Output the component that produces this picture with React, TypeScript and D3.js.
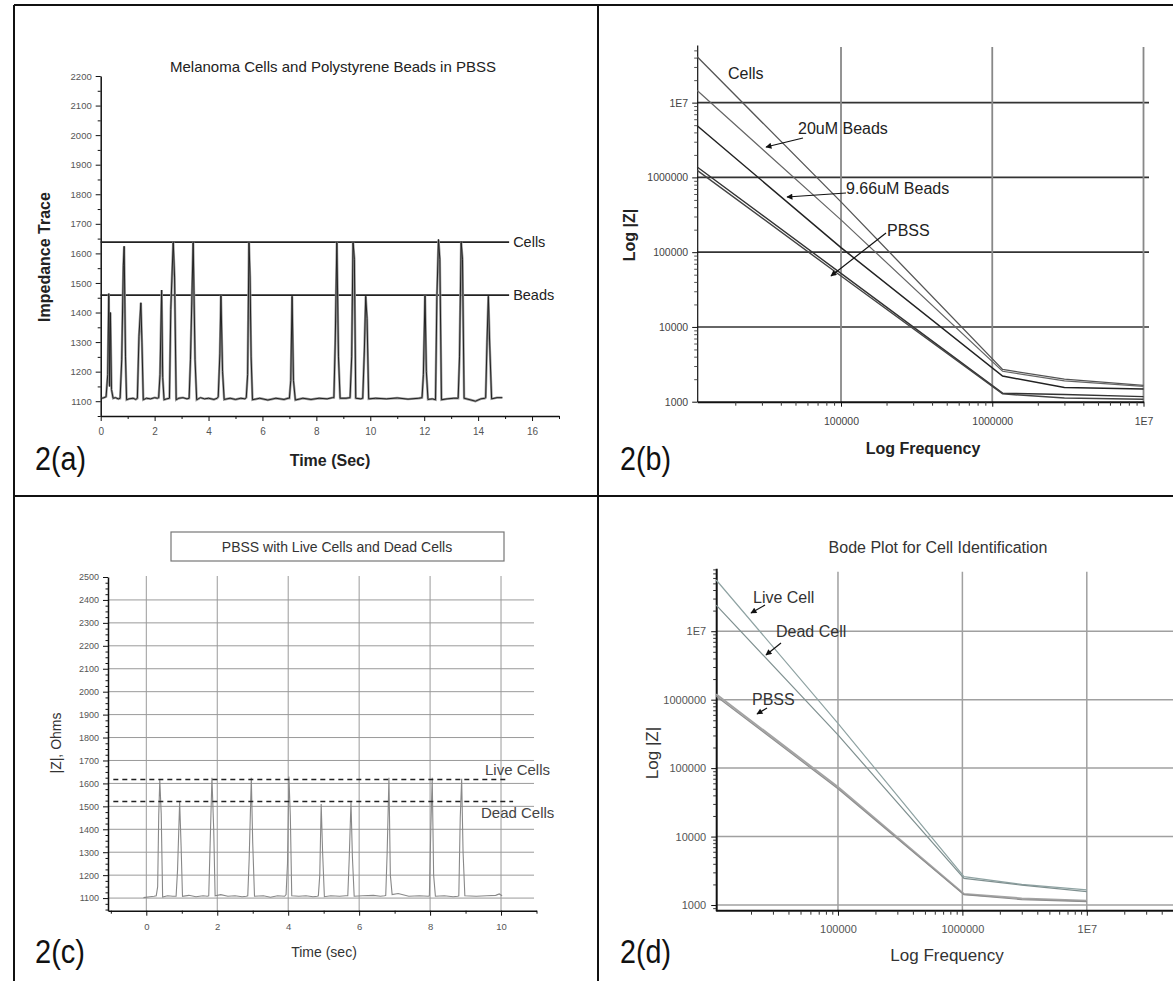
import React, { useEffect, useRef } from 'react';
import * as d3 from 'd3';

const W = 1173;
const H = 981;
const font = 'Arial, "Liberation Sans", sans-serif';

// ---- 2(a) impedance trace, cells and beads ----
const traceA: [number, number][] = [
  [0.05, 1110], [0.12, 1112], [0.2, 1115], [0.26, 1190], [0.3, 1464], [0.33, 1150], [0.36, 1400], [0.4, 1140], [0.46, 1110],
  [0.55, 1112], [0.65, 1108],
  [0.72, 1110], [0.78, 1240], [0.84, 1560], [0.87, 1624], [0.92, 1250], [0.96, 1105],
  [1.05, 1108], [1.2, 1110], [1.3, 1106],
  [1.36, 1110], [1.42, 1320], [1.49, 1433], [1.53, 1300], [1.58, 1105],
  [1.7, 1110], [1.85, 1108], [2.0, 1112], [2.1, 1110],
  [2.15, 1112], [2.2, 1190], [2.26, 1476], [2.3, 1180], [2.35, 1105],
  [2.45, 1108],
  [2.55, 1110], [2.6, 1410], [2.69, 1639], [2.74, 1520], [2.8, 1105],
  [2.9, 1110], [3.05, 1112], [3.2, 1108],
  [3.28, 1110], [3.33, 1240], [3.43, 1639], [3.5, 1240], [3.56, 1105],
  [3.7, 1112], [3.85, 1108], [4.0, 1110], [4.2, 1106], [4.32, 1110],
  [4.36, 1115], [4.42, 1260], [4.46, 1459], [4.52, 1200], [4.58, 1106],
  [4.8, 1110], [5.0, 1106], [5.2, 1110], [5.35, 1108],
  [5.4, 1112], [5.45, 1190], [5.5, 1639], [5.54, 1520], [5.58, 1250], [5.63, 1105],
  [5.9, 1110], [6.2, 1104], [6.5, 1110], [6.8, 1106], [6.95, 1110],
  [7.0, 1110], [7.05, 1170], [7.1, 1455], [7.15, 1170], [7.22, 1104],
  [7.5, 1110], [7.8, 1106], [8.1, 1110], [8.4, 1108], [8.6, 1112],
  [8.65, 1112], [8.7, 1300], [8.76, 1639], [8.82, 1250], [8.88, 1110],
  [9.1, 1110],
  [9.25, 1112], [9.31, 1250], [9.36, 1639], [9.41, 1580], [9.46, 1110],
  [9.65, 1108],
  [9.72, 1110], [9.78, 1270], [9.83, 1455], [9.88, 1380], [9.94, 1108],
  [10.2, 1110], [10.6, 1108], [11.0, 1111], [11.4, 1107], [11.8, 1110],
  [11.92, 1112], [11.97, 1190], [12.03, 1459], [12.08, 1200], [12.14, 1106],
  [12.3, 1108],
  [12.42, 1105], [12.47, 1450], [12.53, 1647], [12.58, 1580], [12.64, 1105],
  [12.85, 1108], [13.1, 1110],
  [13.26, 1110], [13.31, 1250], [13.37, 1640], [13.42, 1580], [13.48, 1110],
  [13.7, 1105], [13.9, 1100], [14.1, 1108], [14.25, 1110],
  [14.28, 1112], [14.33, 1300], [14.38, 1455], [14.43, 1290], [14.5, 1108],
  [14.7, 1112], [14.9, 1112],
];
const levelsA = [
  { label: 'Cells', value: 1638 },
  { label: 'Beads', value: 1459 },
];
const levelSpanA = [0, 15.15];
const yTicksA = [1100, 1200, 1300, 1400, 1500, 1600, 1700, 1800, 1900, 2000, 2100, 2200];
const xTicksA = [0, 2, 4, 6, 8, 10, 12, 14, 16];

// ---- 2(b) bode plot, cells / beads / PBSS ----
const cellsB: [number, number][] = [[1.12e4, 4.1e7], [1e5, 4.7e5], [1.17e6, 2700], [3e6, 2000], [1e7, 1650]];
const beads20B: [number, number][] = [[1.12e4, 1.45e7], [1e5, 2.7e5], [1.17e6, 2550], [3e6, 1900], [1e7, 1600]];
const beads966B: [number, number][] = [[1.12e4, 4.9e6], [1e5, 1.15e5], [1.17e6, 2200], [3e6, 1550], [1e7, 1480]];
const pbssB1: [number, number][] = [[1.12e4, 1.38e6], [1e5, 5.2e4], [1.17e6, 1300], [3e6, 1250], [1e7, 1170]];
const pbssB2: [number, number][] = [[1.12e4, 1.24e6], [1e5, 4.8e4], [1.17e6, 1270], [3e6, 1120], [1e7, 1080]];

// ---- 2(c) live vs dead cells ----
const traceC: [number, number][] = [
  [-0.08, 1102], [0.1, 1106], [0.22, 1108],
  [0.28, 1110], [0.32, 1150], [0.35, 1460], [0.38, 1615], [0.42, 1470], [0.46, 1105],
  [0.6, 1110], [0.75, 1108],
  [0.84, 1108], [0.88, 1220], [0.94, 1520], [0.98, 1330], [1.02, 1108],
  [1.2, 1112], [1.4, 1106], [1.6, 1110], [1.72, 1108],
  [1.76, 1110], [1.8, 1340], [1.85, 1625], [1.9, 1400], [1.94, 1110],
  [2.1, 1115], [2.3, 1108], [2.5, 1110], [2.7, 1106], [2.82, 1108],
  [2.86, 1110], [2.9, 1270], [2.96, 1625], [3.0, 1340], [3.05, 1108],
  [3.3, 1110], [3.5, 1104], [3.7, 1110], [3.9, 1108],
  [3.94, 1115], [3.98, 1250], [4.02, 1630], [4.06, 1460], [4.1, 1110],
  [4.3, 1108], [4.5, 1110], [4.7, 1106], [4.82, 1108],
  [4.85, 1110], [4.89, 1200], [4.93, 1510], [4.97, 1300], [5.02, 1106],
  [5.2, 1110], [5.45, 1108], [5.62, 1110],
  [5.68, 1110], [5.72, 1270], [5.77, 1520], [5.81, 1280], [5.86, 1108],
  [6.1, 1110], [6.4, 1112], [6.6, 1108], [6.72, 1110],
  [6.75, 1112], [6.79, 1300], [6.84, 1625], [6.88, 1200], [6.93, 1115],
  [7.1, 1120], [7.4, 1108], [7.7, 1110], [7.95, 1108],
  [7.98, 1110], [8.02, 1400], [8.06, 1625], [8.1, 1200], [8.15, 1108],
  [8.4, 1110], [8.65, 1106], [8.78, 1108],
  [8.81, 1110], [8.85, 1450], [8.89, 1620], [8.93, 1300], [8.98, 1110],
  [9.3, 1108], [9.6, 1110], [9.85, 1112], [9.95, 1118], [10.03, 1110],
];
const levelsC = [
  { label: 'Live Cells', value: 1617, end: 10.17 },
  { label: 'Dead Cells', value: 1521, end: 10.34 },
];
const yTicksC = [1100, 1200, 1300, 1400, 1500, 1600, 1700, 1800, 1900, 2000, 2100, 2200, 2300, 2400, 2500];
const yGridC = [1100, 1200, 1300, 1400, 1500, 1600, 1700, 1800, 1900, 2000, 2100, 2200, 2300, 2400];
const xTicksC = [0, 2, 4, 6, 8, 10];

// ---- 2(d) bode plot for cell identification ----
const liveD: [number, number][] = [[1.05e4, 5.6e7], [1e5, 4.5e5], [1.03e6, 2600], [3e6, 2000], [1e7, 1660]];
const deadD: [number, number][] = [[1.05e4, 2.4e7], [1e5, 3.05e5], [1.03e6, 2450], [3e6, 1950], [1e7, 1570]];
const pbssD1: [number, number][] = [[1.05e4, 1.2e6], [1e5, 5.3e4], [1.03e6, 1450], [3e6, 1250], [1e7, 1150]];
const pbssD2: [number, number][] = [[1.05e4, 1.12e6], [1e5, 5.0e4], [1.03e6, 1420], [3e6, 1200], [1e7, 1120]];

const decades = [1e3, 1e4, 1e5, 1e6, 1e7];
const decadeLabels = ['1000', '10000', '100000', '1000000', '1E7'];
const freqDecades = [1e5, 1e6, 1e7];
const freqLabels = ['100000', '1000000', '1E7'];

const logMinor = (lo: number, hi: number) => {
  const out: number[] = [];
  for (let e = lo; e < hi; e++) for (let m = 2; m <= 9; m++) out.push(m * Math.pow(10, e));
  return out;
};

function styleAxis(g: any, size: number, color: string, domainWidth = 1.5) {
  g.selectAll('text').attr('font-size', size).attr('font-family', font).attr('fill', color);
  g.selectAll('line').attr('stroke', '#111');
  g.select('.domain').attr('stroke', '#111').attr('stroke-width', domainWidth);
}

function label(g: any, x: number, y: number, str: string, size: number, opts: any = {}) {
  const t = g.append('text')
    .attr('x', x).attr('y', y)
    .attr('font-family', font)
    .attr('font-size', size)
    .attr('fill', opts.fill || '#111')
    .attr('font-weight', opts.weight || 'normal')
    .attr('text-anchor', opts.anchor || 'start')
    .text(str);
  if (opts.rotate) {
    t.attr('x', 0).attr('y', 0).attr('transform', `translate(${x},${y}) rotate(-90)`);
  }
  if (opts.length) {
    t.attr('textLength', opts.length).attr('lengthAdjust', 'spacingAndGlyphs');
  }
  return t;
}

function arrow(g: any, x1: number, y1: number, x2: number, y2: number) {
  g.append('line')
    .attr('x1', x1).attr('y1', y1).attr('x2', x2).attr('y2', y2)
    .attr('stroke', '#111').attr('stroke-width', 1.2)
    .attr('marker-end', 'url(#arrowhead)');
}

export default function App() {
  const ref = useRef<SVGSVGElement>(null);

  useEffect(() => {
    const svg = d3.select(ref.current);
    svg.selectAll('*').remove();

    svg.append('rect').attr('width', W).attr('height', H).attr('fill', '#fff');
    svg.append('defs').append('marker')
      .attr('id', 'arrowhead')
      .attr('viewBox', '0 0 10 10')
      .attr('refX', 9).attr('refY', 5)
      .attr('markerWidth', 6).attr('markerHeight', 5)
      .attr('orient', 'auto')
      .append('path').attr('d', 'M0,0L10,5L0,10z').attr('fill', '#111');

    // frame
    const frame = svg.append('g').attr('stroke', '#111').attr('stroke-width', 2);
    frame.append('line').attr('x1', 14).attr('x2', W).attr('y1', 5).attr('y2', 5);
    frame.append('line').attr('x1', 14).attr('x2', 14).attr('y1', 5).attr('y2', H);
    frame.append('line').attr('x1', 598).attr('x2', 598).attr('y1', 5).attr('y2', H);
    frame.append('line').attr('x1', 14).attr('x2', W).attr('y1', 496).attr('y2', 496);

    // ================= 2(a) =================
    const a = svg.append('g');
    const xA = d3.scaleLinear().domain([0, 17]).range([100.7, 559]);
    const yA = d3.scaleLinear().domain([1050, 2200]).range([416, 76]);

    const axA = a.append('g').attr('transform', 'translate(0,416)')
      .call(d3.axisBottom(xA).tickValues(xTicksA).tickSize(5).tickSizeOuter(0).tickPadding(7).tickFormat(d3.format('d')));
    styleAxis(axA, 10, '#555');
    const axAm = a.append('g').attr('transform', 'translate(0,416)')
      .call(d3.axisBottom(xA).tickValues(d3.range(1, 18, 2)).tickSize(3).tickFormat(() => ''));
    axAm.select('.domain').remove();
    axAm.selectAll('line').attr('stroke', '#111');

    const ayA = a.append('g').attr('transform', 'translate(100.7,0)')
      .call(d3.axisLeft(yA).tickValues(yTicksA).tickSize(5).tickSizeOuter(0).tickPadding(4).tickFormat(d3.format('d')));
    styleAxis(ayA, 9.5, '#555');
    const ayAm = a.append('g').attr('transform', 'translate(100.7,0)')
      .call(d3.axisLeft(yA).tickValues(d3.range(1050, 2200, 100)).tickSize(3).tickFormat(() => ''));
    ayAm.select('.domain').remove();
    ayAm.selectAll('line').attr('stroke', '#111');

    levelsA.forEach((l) => {
      a.append('line')
        .attr('x1', xA(levelSpanA[0])).attr('x2', xA(levelSpanA[1]))
        .attr('y1', yA(l.value)).attr('y2', yA(l.value))
        .attr('stroke', '#222').attr('stroke-width', 1.6);
      label(a, xA(levelSpanA[1]) + 4, yA(l.value) + 5, l.label, 14.5, { fill: '#222' });
    });

    const lineA = d3.line<[number, number]>().x((d) => xA(d[0])).y((d) => yA(d[1]));
    a.append('path').attr('d', lineA(traceA)).attr('fill', 'none').attr('stroke', '#999').attr('stroke-width', 2.4);
    a.append('path').attr('d', lineA(traceA)).attr('fill', 'none').attr('stroke', '#222').attr('stroke-width', 1);

    label(a, 333, 72, 'Melanoma Cells and Polystyrene Beads in PBSS', 15, { anchor: 'middle', fill: '#222' });
    label(a, 50, 257, 'Impedance Trace', 16, { anchor: 'middle', weight: 'bold', rotate: true, fill: '#222' });
    label(a, 330, 466, 'Time (Sec)', 16, { anchor: 'middle', weight: 'bold', fill: '#222' });
    label(a, 35, 470, '2(a)', 33, { fill: '#111', length: 51 });

    // ================= 2(b) =================
    const b = svg.append('g');
    const xB = d3.scaleLog().domain([1.12e4, 1e7]).range([697.2, 1143.5]);
    const yB = d3.scaleLog().domain([1000, 5.9e7]).range([401.7, 45]);

    decades.slice(1).forEach((v) => {
      b.append('line').attr('x1', 697.2).attr('x2', 1149).attr('y1', yB(v)).attr('y2', yB(v))
        .attr('stroke', '#333').attr('stroke-width', 1.6);
    });
    freqDecades.forEach((v) => {
      b.append('line').attr('x1', xB(v)).attr('x2', xB(v)).attr('y1', 47).attr('y2', 401.7)
        .attr('stroke', '#888').attr('stroke-width', 1.8);
    });

    const axB = b.append('g').attr('transform', 'translate(0,401.7)')
      .call(d3.axisBottom(xB).tickValues(freqDecades).tickSize(5).tickSizeOuter(0).tickPadding(11)
        .tickFormat((d, i) => freqLabels[i]));
    styleAxis(axB, 10.5, '#444', 2);
    const axBm = b.append('g').attr('transform', 'translate(0,401.7)')
      .call(d3.axisBottom(xB).tickValues(logMinor(4, 7).filter((v) => v >= 1.12e4)).tickSize(4).tickFormat(() => ''));
    axBm.select('.domain').remove();
    axBm.selectAll('line').attr('stroke', '#333');

    const ayB = b.append('g').attr('transform', 'translate(697.2,0)')
      .call(d3.axisLeft(yB).tickValues(decades).tickSize(5).tickSizeOuter(0).tickPadding(4)
        .tickFormat((d, i) => decadeLabels[i]));
    styleAxis(ayB, 10.5, '#444', 1.2);
    const ayBm = b.append('g').attr('transform', 'translate(697.2,0)')
      .call(d3.axisLeft(yB).tickValues(logMinor(3, 8).filter((v) => v <= 5.9e7)).tickSize(3).tickFormat(() => ''));
    ayBm.select('.domain').remove();
    ayBm.selectAll('line').attr('stroke', '#555');

    const lineB = d3.line<[number, number]>().x((d) => xB(d[0])).y((d) => yB(d[1]));
    const seriesB = [
      { d: cellsB, c: '#555', w: 1.3 },
      { d: beads20B, c: '#666', w: 1.2 },
      { d: beads966B, c: '#222', w: 1.5 },
      { d: pbssB1, c: '#333', w: 1.4 },
      { d: pbssB2, c: '#444', w: 1.4 },
    ];
    seriesB.forEach((s) => {
      b.append('path').attr('d', lineB(s.d)).attr('fill', 'none').attr('stroke', s.c).attr('stroke-width', s.w);
    });

    label(b, 728, 79, 'Cells', 16, { fill: '#222' });
    label(b, 798, 134, '20uM Beads', 16, { fill: '#222' });
    arrow(b, 803, 138, 766, 147);
    label(b, 846, 194, '9.66uM Beads', 16, { fill: '#222' });
    arrow(b, 846, 193, 787, 197);
    label(b, 887, 236, 'PBSS', 16, { fill: '#222' });
    arrow(b, 886, 233, 831, 276);

    label(b, 635, 235, 'Log |Z|', 16, { anchor: 'middle', weight: 'bold', rotate: true, fill: '#222' });
    label(b, 923, 454, 'Log Frequency', 16, { anchor: 'middle', weight: 'bold', fill: '#222' });
    label(b, 620, 470, '2(b)', 33, { fill: '#111', length: 51 });

    // ================= 2(c) =================
    const c = svg.append('g');
    const xC = d3.scaleLinear().domain([-1.08, 11.0]).range([108, 536.5]);
    const yC = d3.scaleLinear().domain([1045, 2500]).range([910.7, 577]);

    yGridC.forEach((v) => {
      c.append('line').attr('x1', 108).attr('x2', 534).attr('y1', yC(v)).attr('y2', yC(v))
        .attr('stroke', '#9a9a9a').attr('stroke-width', 1);
    });
    xTicksC.forEach((v) => {
      c.append('line').attr('x1', xC(v)).attr('x2', xC(v)).attr('y1', 576).attr('y2', 910.7)
        .attr('stroke', '#9a9a9a').attr('stroke-width', 1);
    });

    const axC = c.append('g').attr('transform', 'translate(0,910.7)')
      .call(d3.axisBottom(xC).tickValues(xTicksC).tickSize(5).tickSizeOuter(0).tickPadding(8).tickFormat(d3.format('d')));
    styleAxis(axC, 9.5, '#555');
    const axCm = c.append('g').attr('transform', 'translate(0,910.7)')
      .call(d3.axisBottom(xC).tickValues(d3.range(-1, 12, 2)).tickSize(3).tickFormat(() => ''));
    axCm.select('.domain').remove();
    axCm.selectAll('line').attr('stroke', '#111');

    const ayC = c.append('g').attr('transform', 'translate(108,0)')
      .call(d3.axisLeft(yC).tickValues(yTicksC).tickSize(5).tickSizeOuter(0).tickPadding(4).tickFormat(d3.format('d')));
    styleAxis(ayC, 9, '#555');
    const ayCm = c.append('g').attr('transform', 'translate(108,0)')
      .call(d3.axisLeft(yC).tickValues(d3.range(1050, 2500, 25).filter((v) => v % 100 !== 0)).tickSize(2.5).tickFormat(() => ''));
    ayCm.select('.domain').remove();
    ayCm.selectAll('line').attr('stroke', '#111');

    const lineC = d3.line<[number, number]>().x((d) => xC(d[0])).y((d) => yC(d[1]));
    c.append('path').attr('d', lineC(traceC)).attr('fill', 'none').attr('stroke', '#888').attr('stroke-width', 1.1);

    levelsC.forEach((l) => {
      c.append('line')
        .attr('x1', xC(-0.93)).attr('x2', xC(l.end))
        .attr('y1', yC(l.value)).attr('y2', yC(l.value))
        .attr('stroke', '#222').attr('stroke-width', 1.6).attr('stroke-dasharray', '5,4');
    });
    label(c, 485, 775, 'Live Cells', 15, { fill: '#444' });
    label(c, 481, 818, 'Dead Cells', 15, { fill: '#444' });

    c.append('rect').attr('x', 171).attr('y', 532).attr('width', 333).attr('height', 29)
      .attr('fill', 'none').attr('stroke', '#777').attr('stroke-width', 1.2);
    label(c, 337, 552, 'PBSS with Live Cells and Dead Cells', 14, { anchor: 'middle', fill: '#333' });
    label(c, 61, 743, '|Z|, Ohms', 14, { anchor: 'middle', rotate: true, fill: '#333' });
    label(c, 324, 957, 'Time (sec)', 14, { anchor: 'middle', fill: '#333' });
    label(c, 35, 963, '2(c)', 33, { fill: '#111', length: 50 });

    // ================= 2(d) =================
    const dd = svg.append('g');
    const xD = d3.scaleLog().domain([1.05e4, 1e7]).range([716.2, 1086.8]);
    const yD = d3.scaleLog().domain([826, 8.3e7]).range([910.7, 568.3]);

    decades.forEach((v) => {
      dd.append('line').attr('x1', 716.2).attr('x2', W).attr('y1', yD(v)).attr('y2', yD(v))
        .attr('stroke', '#a0a0a0').attr('stroke-width', 1.5);
    });
    freqDecades.forEach((v) => {
      dd.append('line').attr('x1', xD(v)).attr('x2', xD(v)).attr('y1', 571.7).attr('y2', 910.7)
        .attr('stroke', '#a0a0a0').attr('stroke-width', 1.5);
    });

    const axD = dd.append('g').attr('transform', 'translate(0,910.7)')
      .call(d3.axisBottom(xD).tickValues(freqDecades).tickSize(5).tickSizeOuter(0).tickPadding(10)
        .tickFormat((d, i) => freqLabels[i]));
    styleAxis(axD, 11, '#555', 2);
    axD.select('.domain').remove();
    dd.append('line').attr('x1', 716.2).attr('x2', W).attr('y1', 910.7).attr('y2', 910.7)
      .attr('stroke', '#111').attr('stroke-width', 2);
    const axDm = dd.append('g').attr('transform', 'translate(0,910.7)')
      .call(d3.axisBottom(xD).tickValues(logMinor(4, 8).filter((v) => v >= 1.05e4 && xD(v) < W)).tickSize(4).tickFormat(() => ''));
    axDm.select('.domain').remove();
    axDm.selectAll('line').attr('stroke', '#333');

    const ayD = dd.append('g').attr('transform', 'translate(716.2,0)')
      .call(d3.axisLeft(yD).tickValues(decades).tickSize(5).tickSizeOuter(0).tickPadding(5)
        .tickFormat((d, i) => decadeLabels[i]));
    styleAxis(ayD, 11, '#555', 2);
    const ayDm = dd.append('g').attr('transform', 'translate(716.2,0)')
      .call(d3.axisLeft(yD).tickValues(logMinor(2, 8).filter((v) => v >= 826 && v <= 8.3e7)).tickSize(3).tickFormat(() => ''));
    ayDm.select('.domain').remove();
    ayDm.selectAll('line').attr('stroke', '#333');

    const lineD = d3.line<[number, number]>().x((d) => xD(d[0])).y((d) => yD(d[1]));
    const seriesD = [
      { d: pbssD1, c: '#a4a4a4', w: 2 },
      { d: pbssD2, c: '#8e8e8e', w: 1.2 },
      { d: liveD, c: '#8fa3a3', w: 1.2 },
      { d: deadD, c: '#7f9090', w: 1.2 },
    ];
    seriesD.forEach((s) => {
      dd.append('path').attr('d', lineD(s.d)).attr('fill', 'none').attr('stroke', s.c).attr('stroke-width', s.w);
    });

    label(dd, 938, 553, 'Bode Plot for Cell Identification', 16, { anchor: 'middle', fill: '#333' });
    label(dd, 753, 603, 'Live Cell', 16, { fill: '#333' });
    arrow(dd, 765, 605, 751, 613);
    label(dd, 776, 637, 'Dead Cell', 16, { fill: '#333' });
    arrow(dd, 781, 643, 766, 655);
    label(dd, 752, 705, 'PBSS', 16, { fill: '#333' });
    arrow(dd, 767, 708, 757, 714);
    label(dd, 658, 753, 'Log |Z|', 17, { anchor: 'middle', rotate: true, fill: '#333' });
    label(dd, 947, 961, 'Log Frequency', 17, { anchor: 'middle', fill: '#333' });
    label(dd, 620, 963, '2(d)', 33, { fill: '#111', length: 51 });
  }, []);

  return (
    <svg
      ref={ref}
      width={W}
      height={H}
      style={{ position: 'absolute', left: 0, top: 0, display: 'block' }}
    />
  );
}
